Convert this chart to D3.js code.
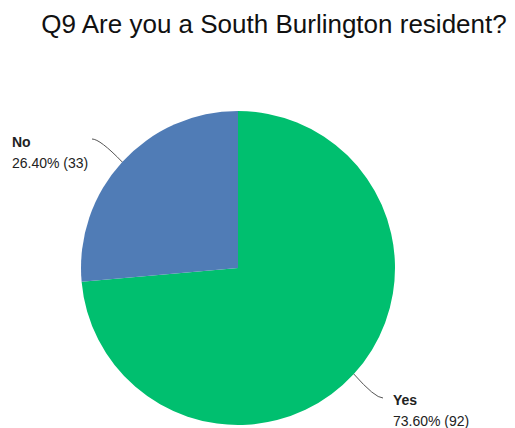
<!DOCTYPE html>
<html>
<head>
<meta charset="utf-8">
<script src="https://cdn.jsdelivr.net/npm/d3@7"></script>
<style>
  body { margin: 0; background: #fff; }
  text { font-family: "Liberation Sans", Arial, sans-serif; }
</style>
</head>
<body>
<svg id="chart"></svg>
<script>
var categories = ["Yes", "No"]
var counts = [92, 33]
var percents = ["73.60%", "26.40%"]
var colors = ["#00BF6F", "#507CB6"]

var width = 515, height = 428
var cx = 238, cy = 268, radius = 157

var svg = d3.select("#chart")
    .attr("width", width)
    .attr("height", height)

svg.append("text")
    .attr("x", 274)
    .attr("y", 33)
    .attr("text-anchor", "middle")
    .style("font-size", "26px")
    .style("fill", "#111")
    .text("Q9 Are you a South Burlington resident?")

var pie = d3.pie().sort(null).value(function(d) { return d })
var arcs = pie(counts)

var arc = d3.arc().innerRadius(0).outerRadius(radius)

var g = svg.append("g").attr("transform", `translate(${cx},${cy})`)

g.selectAll("path")
    .data(arcs)
    .enter()
    .append("path")
    .attr("d", arc)
    .attr("fill", function(d, i) { return colors[i] })

// leader lines + labels
var labelPos = [
    {tx: 393, ty: 405, end: [383, 398], ctrl: [375, 398]},
    {tx: 12, ty: 147, end: [92, 139], ctrl: [100, 139]}
]

arcs.forEach(function(d, i) {
    var mid = (d.startAngle + d.endAngle) / 2
    var ex = cx + radius * Math.sin(mid)
    var ey = cy - radius * Math.cos(mid)
    var p = labelPos[i]
    svg.append("path")
        .attr("d", `M${ex},${ey} Q${p.ctrl[0]},${p.ctrl[1]} ${p.end[0]},${p.end[1]}`)
        .attr("fill", "none")
        .attr("stroke", "#555")
        .attr("stroke-width", 1)

    svg.append("text")
        .attr("x", p.tx)
        .attr("y", p.ty)
        .style("font-size", "14px")
        .style("font-weight", "bold")
        .style("fill", "#222")
        .text(categories[i])

    svg.append("text")
        .attr("x", p.tx)
        .attr("y", p.ty + 21)
        .style("font-size", "14px")
        .style("fill", "#222")
        .text(`${percents[i]} (${counts[i]})`)
})
</script>
</body>
</html>
